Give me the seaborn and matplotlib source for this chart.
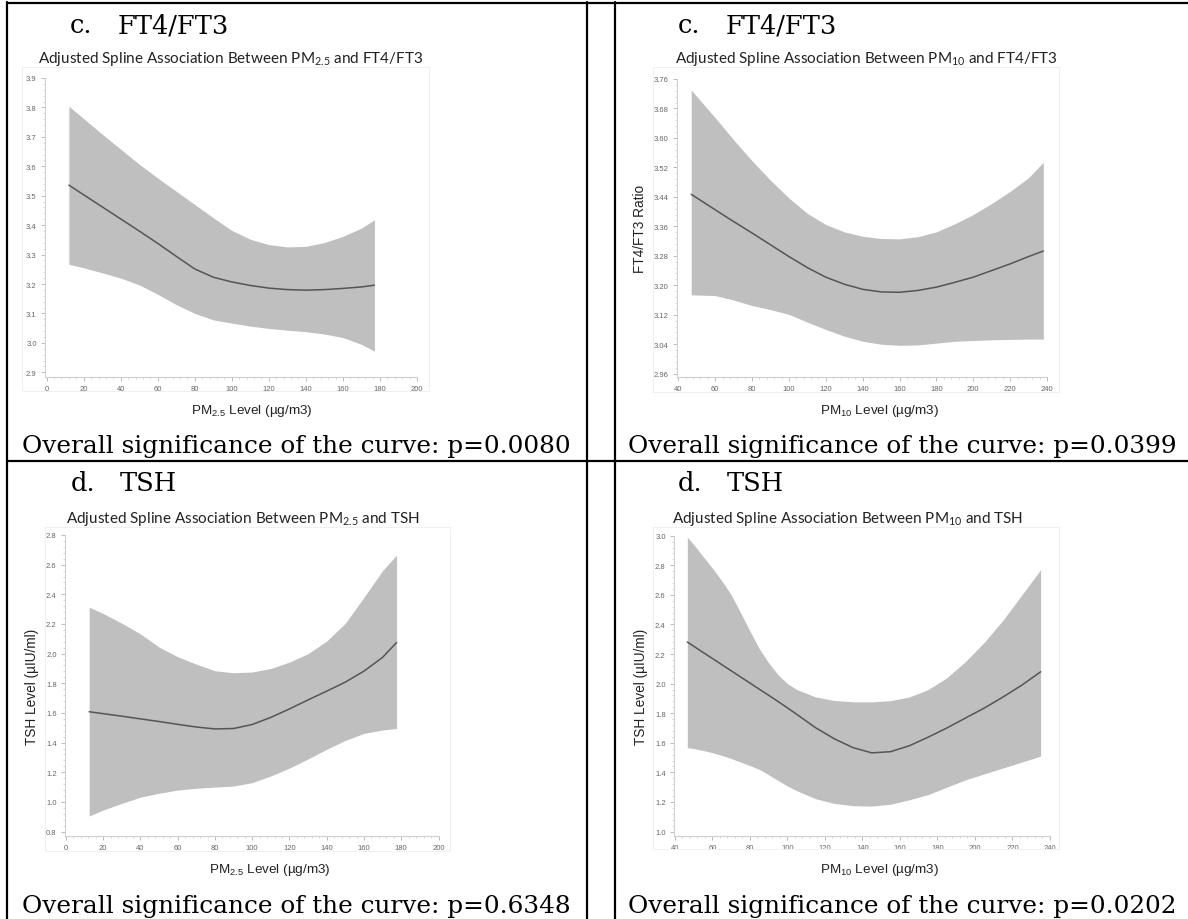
import numpy as np
import pandas as pd
import seaborn as sns
import matplotlib.pyplot as plt
from matplotlib.lines import Line2D
from matplotlib.patches import Rectangle
from matplotlib.ticker import MultipleLocator, AutoMinorLocator, FormatStrFormatter

W, H = 1188, 920

# c. FT4/FT3 vs PM2.5
pm25_ft_x = [12, 20, 30, 40, 50, 60, 70, 80, 90, 100, 110, 120, 130, 140, 150, 160, 170, 177]
pm25_ft_fit = [3.536, 3.503, 3.462, 3.421, 3.380, 3.338, 3.294, 3.251, 3.223, 3.207, 3.195, 3.186, 3.181, 3.179, 3.181, 3.185, 3.190, 3.196]
pm25_ft_upper = [3.804, 3.762, 3.709, 3.658, 3.607, 3.560, 3.515, 3.470, 3.425, 3.382, 3.352, 3.334, 3.326, 3.328, 3.341, 3.362, 3.390, 3.418]
pm25_ft_lower = [3.267, 3.255, 3.238, 3.220, 3.197, 3.165, 3.130, 3.100, 3.078, 3.067, 3.057, 3.049, 3.043, 3.038, 3.030, 3.018, 2.995, 2.972]

# c. FT4/FT3 vs PM10
pm10_ft_x = [47, 60, 70, 80, 90, 100, 110, 120, 130, 140, 150, 160, 170, 180, 190, 200, 210, 220, 230, 238]
pm10_ft_fit = [3.447, 3.405, 3.373, 3.342, 3.310, 3.278, 3.248, 3.222, 3.203, 3.189, 3.182, 3.181, 3.186, 3.195, 3.208, 3.222, 3.240, 3.258, 3.278, 3.293]
pm10_ft_upper = [3.730, 3.655, 3.595, 3.538, 3.485, 3.437, 3.395, 3.365, 3.345, 3.333, 3.327, 3.326, 3.332, 3.345, 3.367, 3.392, 3.422, 3.455, 3.492, 3.534]
pm10_ft_lower = [3.174, 3.172, 3.160, 3.145, 3.134, 3.121, 3.100, 3.080, 3.062, 3.048, 3.040, 3.037, 3.038, 3.043, 3.048, 3.050, 3.052, 3.053, 3.054, 3.054]

# d. TSH vs PM2.5
pm25_tsh_x = [12.5, 20, 30, 40, 50, 60, 70, 80, 90, 100, 110, 120, 130, 140, 150, 160, 170, 177.5]
pm25_tsh_fit = [1.608, 1.595, 1.578, 1.560, 1.542, 1.523, 1.505, 1.492, 1.495, 1.522, 1.570, 1.627, 1.688, 1.747, 1.808, 1.882, 1.975, 2.075]
pm25_tsh_upper = [2.313, 2.270, 2.205, 2.133, 2.044, 1.979, 1.929, 1.884, 1.871, 1.876, 1.900, 1.943, 2.000, 2.085, 2.205, 2.380, 2.560, 2.665]
pm25_tsh_lower = [0.905, 0.945, 0.990, 1.032, 1.058, 1.080, 1.092, 1.100, 1.107, 1.130, 1.175, 1.228, 1.290, 1.355, 1.415, 1.462, 1.485, 1.495]

# d. TSH vs PM10
pm10_tsh_x = [46.6, 50, 55, 60, 65, 70, 75, 80, 85, 90, 95, 100, 105, 115, 125, 135, 145, 155, 165, 175, 185, 195, 205, 215, 225, 235]
pm10_tsh_fit = [2.281, 2.253, 2.211, 2.170, 2.128, 2.087, 2.045, 2.004, 1.962, 1.921, 1.879, 1.836, 1.792, 1.702, 1.627, 1.567, 1.532, 1.540, 1.580, 1.638, 1.700, 1.768, 1.835, 1.910, 1.990, 2.080]
pm10_tsh_upper = [2.990, 2.940, 2.860, 2.780, 2.695, 2.600, 2.480, 2.355, 2.235, 2.140, 2.060, 2.000, 1.960, 1.910, 1.886, 1.877, 1.877, 1.885, 1.910, 1.960, 2.040, 2.150, 2.280, 2.430, 2.600, 2.770]
pm10_tsh_lower = [1.568, 1.561, 1.548, 1.533, 1.515, 1.494, 1.470, 1.446, 1.420, 1.384, 1.345, 1.308, 1.276, 1.222, 1.190, 1.175, 1.172, 1.185, 1.215, 1.250, 1.300, 1.350, 1.390, 1.430, 1.470, 1.510]

p_values = ["0.0080", "0.0399", "0.6348", "0.0202"]

sns.set_theme(style="white")
plt.rcParams["font.family"] = ["Liberation Sans", "DejaVu Sans"]

fig = plt.figure(figsize=(W / 100, H / 100), dpi=100)
fig.patch.set_facecolor("white")


def fx(x):
    return x / W


def fy(y):
    return 1 - y / H


def add_box(left, right, top, bottom):
    return fig.add_axes([fx(left), fy(bottom), (right - left) / W, (bottom - top) / H])


def draw_panel(ax, x, fit, upper, lower, xlim, ylim, ystep, yfmt, xlabel, ylabel, xlab_px):
    ax.fill_between(x, lower, upper, color="#bfbfbf", linewidth=0)
    df = pd.DataFrame({"x": x, "fit": fit})
    sns.lineplot(data=df, x="x", y="fit", ax=ax, color="#555555", linewidth=1.1)
    ax.set_xlim(*xlim)
    ax.set_ylim(*ylim)
    ax.xaxis.set_major_locator(MultipleLocator(20))
    ax.yaxis.set_major_locator(MultipleLocator(ystep))
    ax.xaxis.set_minor_locator(AutoMinorLocator(5))
    ax.yaxis.set_minor_locator(AutoMinorLocator(5))
    ax.yaxis.set_major_formatter(FormatStrFormatter(yfmt))
    ax.xaxis.set_major_formatter(FormatStrFormatter("%d"))
    for s in ["top", "right"]:
        ax.spines[s].set_visible(False)
    for s in ["left", "bottom"]:
        ax.spines[s].set_color("#d0d0d0")
        ax.spines[s].set_linewidth(0.8)
    ax.tick_params(which="major", length=3, width=0.6, color="#b0b0b0",
                   labelsize=5.5, labelcolor="#666666", pad=3, left=True, bottom=True)
    ax.tick_params(which="minor", length=1.6, width=0.5, color="#c8c8c8", left=True, bottom=True)
    ax.set_facecolor("white")
    ax.grid(False)
    ax.set_xlabel(xlabel, fontsize=9.7, color="#222222")
    pos = ax.get_position()
    bx0 = pos.x0 * W
    bw = pos.width * W
    by1 = (1 - pos.y0) * H
    bh = pos.height * H
    ax.xaxis.set_label_coords((xlab_px[0] - bx0) / bw, -(xlab_px[1] - by1) / bh)
    if ylabel:
        ax.set_ylabel(ylabel, fontsize=9.8, color="#222222", labelpad=5)
    else:
        ax.set_ylabel("")


# faint graph frames
for (l, t, r, b) in [(22, 68, 429, 392), (653, 68, 1059, 393), (45, 528, 450, 852), (653, 528, 1059, 850)]:
    fig.add_artist(Rectangle((fx(l), fy(b)), (r - l) / W, (b - t) / H, transform=fig.transFigure,
                             fill=False, edgecolor="#f0f0f0", linewidth=0.8))

axA = add_box(45, 417, 79, 378)
draw_panel(axA, pm25_ft_x, pm25_ft_fit, pm25_ft_upper, pm25_ft_lower, (-0.9, 200), (2.884, 3.9), 0.1, "%.1f",
           "PM$_\\mathregular{2.5}$ Level (µg/m3)", None, (252, 403))
axB = add_box(677, 1047, 80, 378)
draw_panel(axB, pm10_ft_x, pm10_ft_fit, pm10_ft_upper, pm10_ft_lower, (39.3, 240), (2.951, 3.76), 0.08, "%.2f",
           "PM$_\\mathregular{10}$ Level (µg/m3)", "FT4/FT3 Ratio", (880, 403))
axC = add_box(65, 438.5, 536, 837)
draw_panel(axC, pm25_tsh_x, pm25_tsh_fit, pm25_tsh_upper, pm25_tsh_lower, (-0.5, 200), (0.77, 2.8), 0.2, "%.1f",
           "PM$_\\mathregular{2.5}$ Level (µg/m3)", "TSH Level (µIU/ml)", (270, 862))
axD = add_box(674, 1050, 536.7, 837)
draw_panel(axD, pm10_tsh_x, pm10_tsh_fit, pm10_tsh_upper, pm10_tsh_lower, (39.5, 240), (0.97, 3.0), 0.2, "%.1f",
           "PM$_\\mathregular{10}$ Level (µg/m3)", "TSH Level (µIU/ml)", (880, 862))

# graph titles
title_font = ["Lato", "DejaVu Sans"]
titles = [
    (231, 63, "Adjusted Spline Association Between PM$_\\mathregular{2.5}$ and FT4/FT3"),
    (866, 63, "Adjusted Spline Association Between PM$_\\mathregular{10}$ and FT4/FT3"),
    (243, 523, "Adjusted Spline Association Between PM$_\\mathregular{2.5}$ and TSH"),
    (848, 523, "Adjusted Spline Association Between PM$_\\mathregular{10}$ and TSH"),
]
for x, y, s in titles:
    fig.text(fx(x), fy(y), s, ha="center", va="baseline", fontsize=11, family=title_font, color="#222222")

# table headers and footers
serif = ["DejaVu Serif"]
headers = [(70, 118, 33, "c.", "FT4/FT3"), (678, 726, 33, "c.", "FT4/FT3"),
           (71, 120, 491, "d.", "TSH"), (678, 727, 491, "d.", "TSH")]
for x1, x2, y, a, b in headers:
    fig.text(fx(x1), fy(y), a, ha="left", va="baseline", fontsize=18.5, family=serif, color="black")
    fig.text(fx(x2), fy(y), b, ha="left", va="baseline", fontsize=18.5, family=serif, color="black")

footers = [(22, 453, p_values[0]), (628, 453, p_values[1]), (22, 913, p_values[2]), (628, 913, p_values[3])]
for x, y, p in footers:
    fig.text(fx(x), fy(y), "Overall significance of the curve: p=" + p, ha="left", va="baseline",
             fontsize=17.8, family=serif, color="black")

# table rules
rules = [((7, 1188), (3.5, 3.5)), ((7, 1188), (461.5, 461.5)), ((7, 7), (3, 920)),
         ((587, 587), (3, 920)), ((615, 615), (3, 920))]
for xs, ys in rules:
    fig.add_artist(Line2D([fx(v) for v in xs], [fy(v) for v in ys], transform=fig.transFigure,
                          color="black", linewidth=1.6))

fig.savefig("out.png", dpi=100, facecolor="white")
